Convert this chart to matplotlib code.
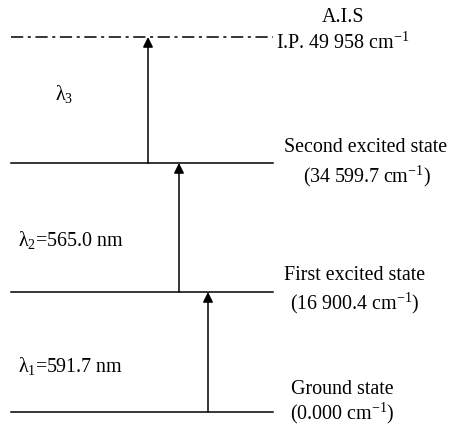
import matplotlib
matplotlib.use("Agg")
import matplotlib.pyplot as plt

plt.rcParams['font.family'] = ['Liberation Serif', 'DejaVu Serif']
plt.rcParams['mathtext.fontset'] = 'custom'
plt.rcParams['mathtext.rm'] = 'Liberation Serif'
plt.rcParams['mathtext.it'] = 'Liberation Serif'
plt.rcParams['mathtext.default'] = 'rm'

# energy levels (schematic height in diagram, pixel units from top)
level_names = ['Ground state', 'First excited state', 'Second excited state', 'A.I.S']
level_values = ['(0.000 cm$^{-1}$)', '(16 900.4 cm$^{-1}$)', '(34 599.7 cm$^{-1}$)',
                'I.P. 49 958 cm$^{-1}$']
level_y = [413, 293, 164, 38]

# excitation steps
step_labels = ['λ$_{1}$=591.7 nm', 'λ$_{2}$=565.0 nm', 'λ$_{3}$']
step_x = [208, 179, 148]

fig = plt.figure(figsize=(4.49, 4.27), dpi=100)
ax = fig.add_axes([0, 0, 1, 1])
ax.set_xlim(0, 449)
ax.set_ylim(427, 0)
ax.axis('off')

fs = 14.4
name_pos = [(342, 390), (355, 276), (366, 148), (343, 18)]
value_pos = [(342, 413), (355, 303), (367, 176), (343, 43)]

for i, y in enumerate(level_y):
    ls = (0, (8, 3, 2, 3)) if i == len(level_y) - 1 else '-'
    ax.plot([11, 273], [y, y], color='black', lw=1.1, linestyle=ls)
    ax.text(*name_pos[i], level_names[i], ha='center', va='center', fontsize=fs)
    ax.text(*value_pos[i], level_values[i], ha='center', va='center', fontsize=fs)

for i in range(3):
    ax.annotate('', xy=(step_x[i], level_y[i + 1]), xytext=(step_x[i], level_y[i]),
                arrowprops=dict(arrowstyle='-|>', color='black', lw=1.1,
                                mutation_scale=15, shrinkA=0, shrinkB=0))

ax.text(18, 366, step_labels[0], ha='left', va='center', fontsize=fs)
ax.text(18, 240, step_labels[1], ha='left', va='center', fontsize=fs)
ax.text(55, 94, step_labels[2], ha='left', va='center', fontsize=fs)

fig.savefig('out.png', dpi=100, facecolor='white')
